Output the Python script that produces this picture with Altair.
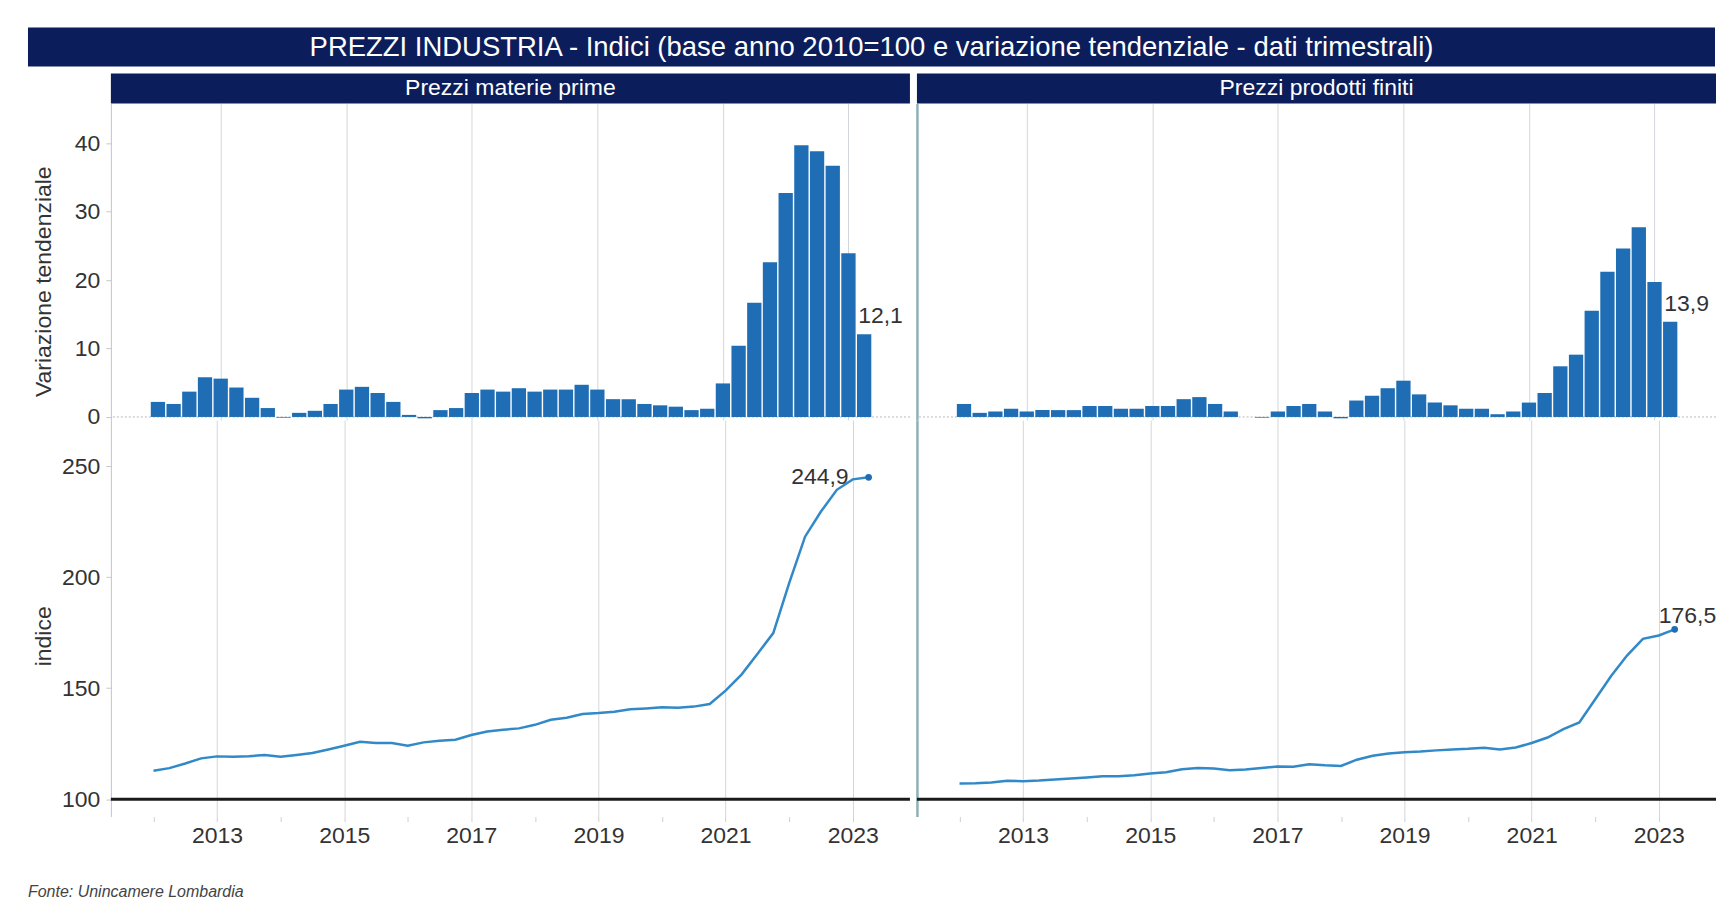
import altair as alt
import pandas as pd

# ---------------- data ----------------
quarters = []
for y in range(2012, 2024):
    for q in range(1, 5):
        if y == 2023 and q > 2:
            break
        quarters.append(f"{y}-T{q}")

materie_var = [2.2, 1.9, 3.7, 5.8, 5.6, 4.3, 2.8, 1.3, -0.1, 0.6, 0.9, 1.9,
               4.0, 4.4, 3.5, 2.2, 0.3, -0.2, 1.0, 1.3, 3.5, 4.0, 3.7, 4.2,
               3.7, 4.0, 4.0, 4.7, 4.0, 2.6, 2.6, 1.9, 1.7, 1.5, 1.0, 1.2,
               4.9, 10.4, 16.7, 22.6, 32.7, 39.7, 38.8, 36.7, 23.9, 12.1]
finiti_var = [1.9, 0.6, 0.8, 1.2, 0.8, 1.0, 1.0, 1.0, 1.6, 1.6, 1.2, 1.2,
              1.6, 1.6, 2.6, 2.9, 1.9, 0.8, 0.0, -0.1, 0.8, 1.6, 1.9, 0.8,
              -0.2, 2.4, 3.1, 4.2, 5.3, 3.3, 2.1, 1.7, 1.2, 1.2, 0.4, 0.8,
              2.1, 3.5, 7.4, 9.1, 15.5, 21.2, 24.6, 27.7, 19.7, 13.9]
materie_idx = [112.8, 114.0, 116.1, 118.4, 119.3, 119.1, 119.4, 119.9, 119.1, 119.9, 120.8, 122.4,
               124.1, 125.9, 125.3, 125.3, 124.1, 125.6, 126.3, 126.8, 128.9, 130.5, 131.3, 131.9,
               133.5, 135.8, 136.7, 138.4, 138.8, 139.4, 140.5, 140.9, 141.4, 141.2, 141.7, 142.9,
               148.9, 156.1, 165.4, 174.8, 197.3, 218.2, 229.5, 239.3, 244.0, 244.9]
finiti_idx = [107.1, 107.2, 107.5, 108.3, 108.1, 108.4, 108.9, 109.3, 109.8, 110.4, 110.4, 110.8,
              111.6, 112.2, 113.5, 114.1, 113.8, 113.1, 113.4, 114.1, 114.7, 114.6, 115.8, 115.3,
              115.0, 117.8, 119.6, 120.6, 121.2, 121.5, 122.0, 122.4, 122.7, 123.2, 122.4, 123.3,
              125.3, 127.8, 131.6, 134.6, 145.0, 155.5, 164.7, 172.2, 173.7, 176.5]

panel_names = ["Prezzi materie prime", "Prezzi prodotti finiti"]
title_text = "PREZZI INDUSTRIA - Indici (base anno 2010=100 e variazione tendenziale - dati trimestrali)"
source_text = "Fonte: Unincamere Lombardia"
year_ticks = list(range(2012, 2024))
var_ticks = [0, 10, 20, 30, 40]
idx_ticks = [100, 150, 200, 250]

# ---------------- style ----------------
NAVY = "#0b1e5b"
BAR = "#1f6eb5"
LINE = "#3189c8"
FONT = "Liberation Sans"
TXT = "#333333"
GRID = "#d3d6da"
W = 800
GAP = 3
H_HEAD = 30
H_BAR = 317
H_LINE = 397
X0, X1 = 2011.33, 2023.9
PXY = W / (X1 - X0)
BAR_SIZE = PXY / 4 - 1.6
TITLE_L, TITLE_R = -83, 2 * W + GAP + 3
TITLE_H = 39


def make_df(var, idx):
    d = pd.DataFrame({"periodo": quarters, "var": var, "idx": idx})
    d["t"] = d["periodo"].str.slice(0, 4).astype(int) + (d["periodo"].str.slice(6).astype(int) - 1) / 4
    d["var_lbl"] = d["var"].map(lambda v: f"{v:.1f}".replace(".", ","))
    d["idx_lbl"] = d["idx"].map(lambda v: f"{v:.1f}".replace(".", ","))
    return d


xscale = alt.Scale(domain=[X0, X1], nice=False, zero=False)
grid_cond = {"condition": {"test": "datum.value % 2 == 1", "value": 1}, "value": 0}

x_axis_top = alt.Axis(values=year_ticks, grid=True, gridColor=GRID, gridOpacity=grid_cond,
                      labels=False, ticks=False, domain=False, title=None)
x_axis_bot = alt.Axis(values=year_ticks, grid=True, gridColor=GRID, gridOpacity=grid_cond,
                      labelExpr="datum.value % 2 == 1 ? '' + datum.value : ''",
                      labelOverlap=False, labelFlush=False, ticks=True, tickColor="#cfcfcf",
                      tickSize=5, domain=False, labelFontSize=23, labelColor=TXT,
                      labelPadding=3, labelFont=FONT, title=None)


def y_axis(values, title, title_y, title_pad, left):
    if left:
        return alt.Axis(values=values, title=title, titleY=title_y, titlePadding=title_pad,
                        titleFontSize=23, titleFontWeight="normal", titleColor=TXT, titleFont=FONT,
                        labelFontSize=23, labelColor=TXT, labelFont=FONT, labelPadding=6,
                        tickSize=5, tickColor="#c8c8c8", domainColor="#c4c4c4", grid=False)
    return alt.Axis(values=values, labels=False, ticks=False, title=None, grid=False,
                    domainColor="#8fb0b6", domainWidth=2.5)


def header(text):
    hdf = pd.DataFrame({"label": [text]})
    return alt.Chart(hdf).mark_text(color="white", fontSize=23, font=FONT,
                                    align="center", baseline="middle").encode(
        x=alt.value(W / 2), y=alt.value(H_HEAD / 2), text="label:N"
    ).properties(width=W, height=H_HEAD, view=alt.ViewBackground(fill=NAVY, stroke=None))


def title_bar():
    tdf = pd.DataFrame({"title": [title_text]})
    base = alt.Chart(tdf)
    rect = base.mark_rect(color=NAVY).encode(
        x=alt.value(TITLE_L), x2=alt.value(TITLE_R), y=alt.value(0), y2=alt.value(TITLE_H))
    txt = base.mark_text(color="white", fontSize=27.5, font=FONT,
                         align="center", baseline="middle").encode(
        x=alt.value((TITLE_L + TITLE_R) / 2), y=alt.value(TITLE_H / 2 + 1), text="title:N")
    return alt.layer(rect, txt).properties(width=W, height=TITLE_H)


def column(df, name, left, bar_lbl, idx_lbl):
    last = df.iloc[[-1]]
    xb = alt.X("t:Q", scale=xscale, axis=x_axis_top)
    yb_scale = alt.Scale(domain=[-0.45, 45.8], nice=False, zero=False)
    yb_axis = y_axis(var_ticks, "Variazione tendenziale", 178, 19, left)
    bars = alt.Chart(df).mark_bar(size=BAR_SIZE, color=BAR).encode(
        x=xb, y=alt.Y("var:Q", scale=yb_scale, axis=yb_axis))
    zero = alt.Chart(pd.DataFrame({"var": [0]})).mark_rule(
        color="#b8b8b8", strokeDash=[2, 2], strokeWidth=1).encode(
        y=alt.Y("var:Q", scale=yb_scale, axis=yb_axis))
    blabel = alt.Chart(last).mark_text(
        align="left", baseline="alphabetic", dx=bar_lbl[0], dy=bar_lbl[1],
        fontSize=23, font=FONT, color=TXT).encode(
        x=xb, y=alt.Y("var:Q", scale=yb_scale, axis=yb_axis), text="var_lbl:N")
    top = alt.layer(zero, bars, blabel).properties(width=W, height=H_BAR)

    xl = alt.X("t:Q", scale=xscale, axis=x_axis_bot)
    yl_scale = alt.Scale(domain=[92.2, 270.7], nice=False, zero=False)
    yl_axis = y_axis(idx_ticks, "indice", 216, 6, left)
    base100 = alt.Chart(pd.DataFrame({"idx": [100]})).mark_rule(
        color="#1a1a1a", strokeWidth=3).encode(
        y=alt.Y("idx:Q", scale=yl_scale, axis=yl_axis))
    line = alt.Chart(df).mark_line(color=LINE, strokeWidth=2.5).encode(
        x=xl, y=alt.Y("idx:Q", scale=yl_scale, axis=yl_axis))
    dot = alt.Chart(last).mark_point(filled=True, color=BAR, size=45, opacity=1).encode(
        x=xl, y=alt.Y("idx:Q", scale=yl_scale, axis=yl_axis))
    llabel = alt.Chart(last).mark_text(
        align=idx_lbl[0], baseline=idx_lbl[1], dx=idx_lbl[2], dy=idx_lbl[3],
        fontSize=23, font=FONT, color=TXT).encode(
        x=xl, y=alt.Y("idx:Q", scale=yl_scale, axis=yl_axis), text="idx_lbl:N")
    bottom = alt.layer(base100, line, dot, llabel).properties(width=W, height=H_LINE)

    return alt.vconcat(header(name), top, bottom, spacing=0, bounds="flush")


df_m = make_df(materie_var, materie_idx)
df_f = make_df(finiti_var, finiti_idx)

left_col = column(df_m, panel_names[0], True, (-6, -11), ("right", "middle", -20, 0))
right_col = column(df_f, panel_names[1], False, (-6, -11), ("left", "alphabetic", -16, -6))

cols = alt.hconcat(left_col, right_col, spacing=GAP)

chart = alt.vconcat(title_bar(), cols, spacing=7).properties(
    title=alt.TitleParams(source_text, orient="bottom", anchor="start", fontSize=16,
                          fontStyle="italic", fontWeight="normal", color="#444444",
                          font=FONT, offset=37)
).configure(
    background="white", padding={"left": 20, "top": 19, "right": 0, "bottom": 5}, font=FONT
).configure_view(stroke=None)

chart.save("out.html", embed_options={"renderer": "svg", "actions": False})
